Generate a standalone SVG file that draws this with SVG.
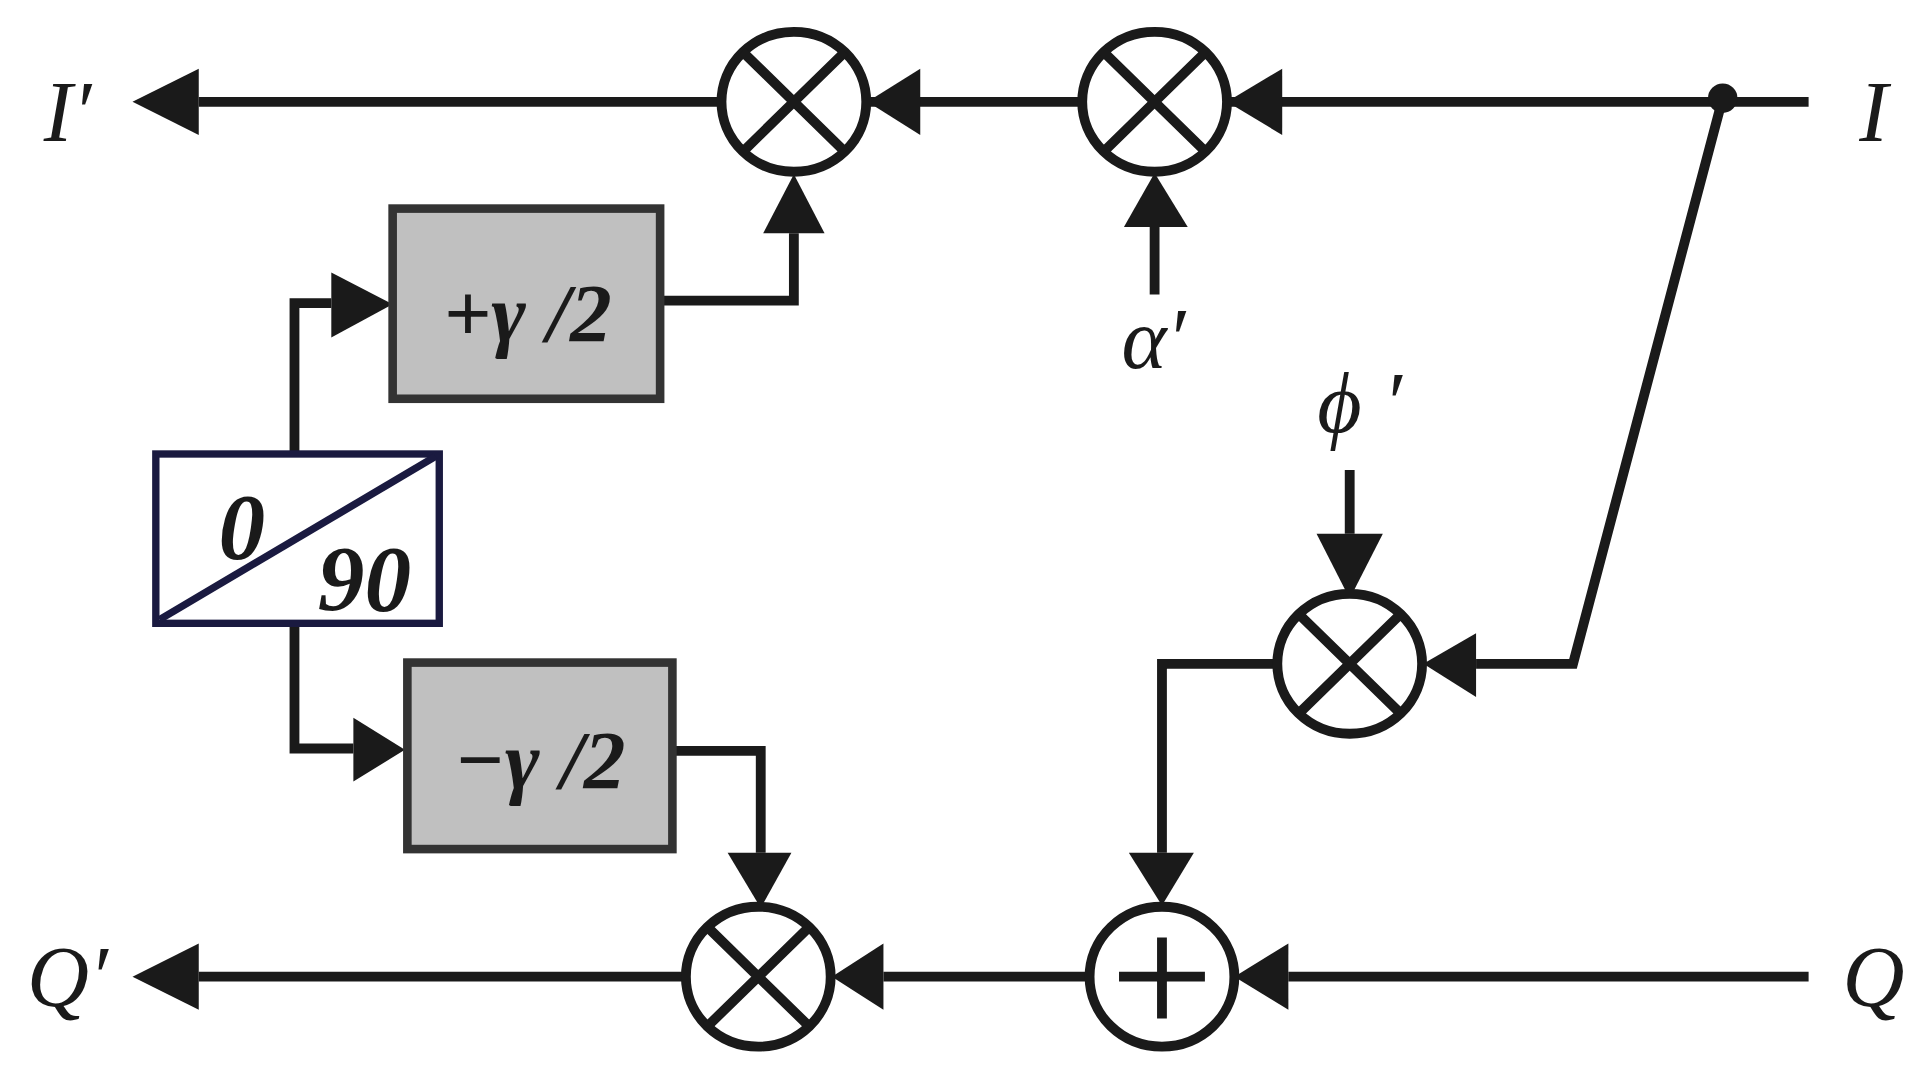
<svg xmlns="http://www.w3.org/2000/svg" width="1924" height="1091" viewBox="0 0 1924 1091">
<style>
.l{fill:none;stroke:#1a1a1a;stroke-width:8}
.c{fill:#fff;stroke:#1a1a1a;stroke-width:8}
.a{fill:#1a1a1a}
.b{fill:#c0c0c0;stroke:#333;stroke-width:7}
.t{font-family:"Liberation Serif",serif;font-style:italic;fill:#1a1a1a}
.bd{font-weight:bold}
</style>
<rect width="1924" height="1091" fill="#fff"/>
<g transform="scale(1.227)">
<g id="connectors">
<path class="l" d="M162 83H588M706 83H882M1000 83H1474M1404 80L1282 541H1203M1041 541H947V695M1050 796H1474M720 796H888M162 796H560M941 240V185M1100 383V435M538 245H647V190M240 370V247H270M240 508V610H288M548 612H620V695"/>
<polygon class="a" points="108,83 162,56 162,110"/>
<polygon class="a" points="707,83 750,56 750,110"/>
<polygon class="a" points="1000,83 1045,56 1045,110"/>
<polygon class="a" points="941,141 916,185 968,185"/>
<polygon class="a" points="647,142 622,190 672,190"/>
<polygon class="a" points="320,248 270,222 270,275"/>
<polygon class="a" points="330,611 288,585 288,637"/>
<polygon class="a" points="620,740 593,695 645,695"/>
<polygon class="a" points="947,738 920,695 973,695"/>
<polygon class="a" points="1100,488 1073,435 1127,435"/>
<polygon class="a" points="1160,541 1203,516 1203,568"/>
<polygon class="a" points="108,796 162,769 162,823"/>
<polygon class="a" points="678,796 720,769 720,823"/>
<polygon class="a" points="1006,796 1050,769 1050,823"/>
<circle class="a" cx="1404" cy="80" r="12"/>
</g>
<g id="mul1"><ellipse class="c" cx="647" cy="83" rx="59" ry="57"/><path class="l" d="M605 42L689 124M689 42L605 124"/></g>
<g id="mul2"><ellipse class="c" cx="941" cy="83" rx="59" ry="57"/><path class="l" d="M899 42L983 124M983 42L899 124"/></g>
<g id="mulphi"><ellipse class="c" cx="1100" cy="541" rx="59" ry="57"/><path class="l" d="M1058 500L1142 582M1142 500L1058 582"/></g>
<g id="mul3"><ellipse class="c" cx="618" cy="796" rx="59" ry="57"/><path class="l" d="M576 755L660 837M660 755L576 837"/></g>
<g id="adder"><ellipse class="c" cx="947" cy="796" rx="59" ry="57"/><path class="l" d="M912 796H982M947 764V830" stroke-width="10"/></g>
<g id="gplus"><rect class="b" x="320" y="170" width="218" height="155"/><text class="t bd" x="430" y="278" font-size="68" text-anchor="middle">+γ /2</text></g>
<g id="gminus"><rect class="b" x="332" y="540" width="216" height="152"/><text class="t bd" x="440" y="642" font-size="68" text-anchor="middle">−γ /2</text></g>
<g id="split"><rect x="127" y="370" width="231" height="138" fill="#fff" stroke="#1a1a40" stroke-width="6"/><path d="M130 505L355 372" stroke="#1a1a40" stroke-width="6"/><text class="t bd" x="197" y="455" font-size="76" text-anchor="middle">0</text><text class="t bd" x="297" y="497" font-size="76" text-anchor="middle">90</text></g>
<g id="labels">
<text class="t" x="55" y="115" font-size="70" text-anchor="middle">I′</text>
<text class="t" x="1527" y="115" font-size="70" text-anchor="middle">I</text>
<text class="t" x="55" y="820" font-size="70" text-anchor="middle">Q′</text>
<text class="t" x="1527" y="820" font-size="70" text-anchor="middle">Q</text>
<text class="t" x="940" y="300" font-size="70" text-anchor="middle">α′</text>
<text class="t" x="1108" y="352" font-size="70" text-anchor="middle">ϕ ′</text>
</g>
</g>
</svg>
